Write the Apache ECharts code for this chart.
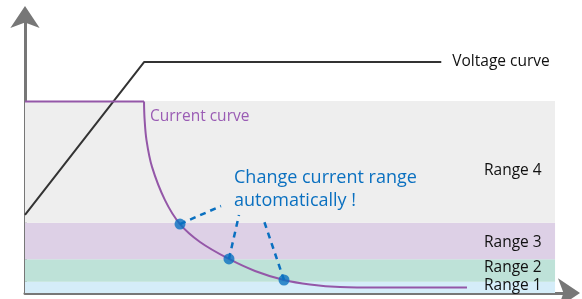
<!DOCTYPE html>
<html>
<head>
<meta charset="utf-8">
<script src="https://cdn.jsdelivr.net/npm/echarts@6/dist/echarts.min.js"></script>
<style>
  html, body { margin: 0; padding: 0; background: #fff; }
  #chart { width: 582px; height: 299px; }
</style>
</head>
<body>
<div id="chart"></div>
<script>
// both axes run 0..100 (arbitrary time / level units)
const voltageTime = [0, 21.8, 76.1]
const voltageLevel = [28.0, 82.8, 82.8]

const holdTime = [0, 21.76]
const holdLevel = [68.6, 68.6]

const currentTime = [21.76, 21.85, 22.21, 23.22, 25.59, 28.34, 31.99, 37.29, 42.05, 47.35, 52.1, 57.59, 64.9, 80.8]
const currentLevel = [68.6, 62.7, 54.8, 45.2, 33.3, 24.7, 18.3, 12.2, 7.9, 4.66, 3.05, 2.15, 1.97, 1.97]

const rangeNames = ['Range 1', 'Range 2', 'Range 3', 'Range 4']
const rangeLow = [0, 4.05, 12.1, 25.2]
const rangeHigh = [4.05, 12.1, 25.2, 68.8]
const rangeEnd = 96.9

const switchTime = [28.34, 37.29, 47.35]
const switchLevel = [24.7, 12.2, 4.66]
const calloutTime = [35.83, 39.12, 43.51]
const calloutLevel = [31.18, 27.96, 26.88]

const FONT = '"Open Sans", "Noto Sans", sans-serif'
const bandColors = ['#d5edf9', '#bee2d8', '#ddd0e6', '#eeeeee']
const labelShift = [-2, -2.5, 1.5, 8.5]

const chart = echarts.init(document.getElementById('chart'))

const pairs = (xs, ys) => xs.map((x, i) => [x, ys[i]])

const axisCommon = {
  type: 'value',
  min: 0,
  max: 100,
  axisLabel: { show: false },
  axisTick: { show: false },
  splitLine: { show: false },
  axisLine: {
    show: true,
    symbol: ['none', 'arrow'],
    symbolSize: [22, 22],
    symbolOffset: [0, 8],
    lineStyle: { color: '#777', width: 3 },
  },
}

chart.setOption({
  animation: false,
  title: [
    {
      text: 'Current curve',
      left: 150,
      top: 109,
      padding: 0,
      textStyle: { color: '#9a5cb4', fontSize: 15.5, fontWeight: 'normal', fontFamily: FONT },
    },
    {
      text: 'Change current range\nautomatically !',
      left: 234,
      top: 166,
      padding: 0,
      textStyle: {
        color: '#0a70c0',
        fontSize: 18,
        lineHeight: 23,
        fontWeight: 'normal',
        fontFamily: FONT,
      },
    },
  ],
  grid: { left: 25, right: 10, top: 14, bottom: 6 },
  xAxis: { ...axisCommon },
  yAxis: { ...axisCommon },
  series: [
    {
      type: 'line',
      data: [],
      silent: true,
      markArea: {
        silent: true,
        data: rangeNames.map((name, i) => [
          {
            name,
            xAxis: 0,
            yAxis: rangeLow[i],
            itemStyle: { color: bandColors[i] },
            label: { offset: [0, labelShift[i]] },
          },
          { xAxis: rangeEnd, yAxis: rangeHigh[i] },
        ]),
        label: {
          show: true,
          position: [459, '50%'],
          align: 'left',
          verticalAlign: 'middle',
          color: '#111',
          fontSize: 15.5,
          fontFamily: FONT,
        },
      },
    },
    {
      name: 'Voltage curve',
      type: 'line',
      data: pairs(voltageTime, voltageLevel),
      symbol: 'none',
      lineStyle: { color: '#333', width: 2 },
      endLabel: {
        show: true,
        formatter: 'Voltage curve',
        distance: 11,
        color: '#111',
        fontSize: 15.5,
        fontFamily: FONT,
      },
    },
    {
      type: 'line',
      data: pairs(holdTime, holdLevel),
      symbol: 'none',
      lineStyle: { color: '#9457a8', width: 2 },
    },
    {
      name: 'Current curve',
      type: 'line',
      data: pairs(currentTime, currentLevel),
      symbol: 'none',
      smooth: 0.35,
      lineStyle: { color: '#9457a8', width: 2 },
    },
    {
      type: 'lines',
      coordinateSystem: 'cartesian2d',
      z: 4,
      data: switchTime.map((t, i) => ({
        coords: [[t, switchLevel[i]], [calloutTime[i], calloutLevel[i]]],
      })),
      lineStyle: { color: '#0a70c0', width: 2.5, type: [6, 5], opacity: 1 },
    },
    {
      type: 'scatter',
      z: 5,
      data: pairs(switchTime, switchLevel),
      symbolSize: 11,
      itemStyle: { color: '#0a70c0' },
    },
  ],
})
</script>
</body>
</html>
